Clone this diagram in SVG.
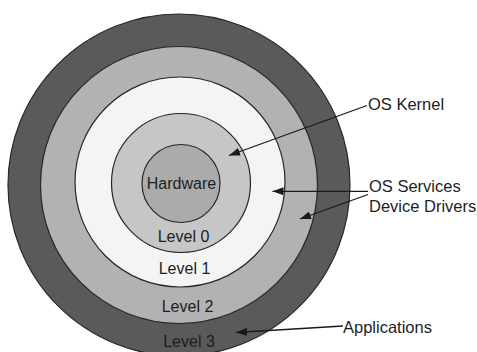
<svg xmlns="http://www.w3.org/2000/svg" width="477" height="352" viewBox="0 0 477 352">
  <style>
    .ring { stroke: #262626; stroke-width: 1.2; }
    .lbl { font-family: "Liberation Sans", Arial, sans-serif; font-size: 16px; fill: #1e1e1e; text-anchor: middle; }
    .side { font-family: "Liberation Sans", Arial, sans-serif; font-size: 16.5px; fill: #1e1e1e; }
    .conn { stroke: #1a1a1a; stroke-width: 1.3; fill: none; marker-end: url(#head); }
  </style>
  <defs>
    <marker id="head" markerUnits="userSpaceOnUse" markerWidth="12" markerHeight="8" refX="11" refY="4" orient="auto">
      <path d="M0,0 L11,4 L0,8 Z" fill="#1a1a1a"/>
    </marker>
  </defs>
  <rect width="477" height="352" fill="#ffffff"/>

  <g id="level3">
    <circle class="ring" cx="179" cy="185" r="171" fill="#5a5a5a"/>
    <text class="lbl" x="189" y="347">Level 3</text>
  </g>
  <g id="level2">
    <circle class="ring" cx="179" cy="185" r="138.5" fill="#b2b2b2"/>
    <text class="lbl" x="187.5" y="312">Level 2</text>
  </g>
  <g id="level1">
    <circle class="ring" cx="180" cy="182" r="105" fill="#f4f4f4"/>
    <text class="lbl" x="184.5" y="274">Level 1</text>
  </g>
  <g id="level0">
    <circle class="ring" cx="181" cy="183" r="69.5" fill="#c6c6c6"/>
    <text class="lbl" x="183.5" y="242">Level 0</text>
  </g>
  <g id="hardware">
    <circle class="ring" cx="181" cy="183.5" r="39" fill="#ababab"/>
    <text class="lbl" x="181.5" y="188.5">Hardware</text>
  </g>

  <g id="connectors">
    <line class="conn" x1="367" y1="105.5" x2="229" y2="155.5"/>
    <line class="conn" x1="368" y1="191.3" x2="272.5" y2="191.3"/>
    <line class="conn" x1="368" y1="194.5" x2="300" y2="219"/>
    <line class="conn" x1="343" y1="326" x2="236" y2="332.5"/>
  </g>

  <g id="os-kernel">
    <text class="side" x="368" y="109.5">OS Kernel</text>
  </g>
  <g id="os-services">
    <text class="side" x="369" y="191.5">OS Services</text>
    <text class="side" x="369" y="211.5">Device Drivers</text>
  </g>
  <g id="applications">
    <text class="side" x="343" y="332.5">Applications</text>
  </g>
</svg>
